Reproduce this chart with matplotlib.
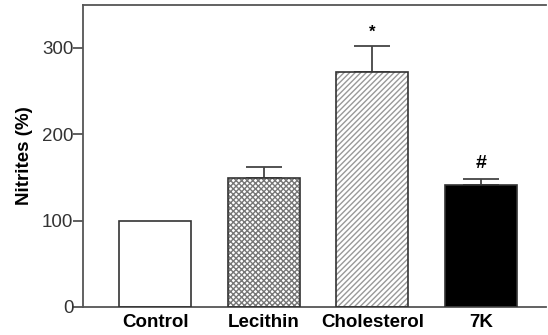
import matplotlib
matplotlib.use("Agg")
import matplotlib.pyplot as plt
import numpy as np

categories = ["Control", "Lecithin", "Cholesterol", "7K"]
values = [100, 149, 272, 141]
errors = [0, 13, 30, 7]
marks = ["", "", "*", "#"]

plt.rcParams['font.family'] = ['Liberation Sans', 'DejaVu Sans']
plt.rcParams['hatch.linewidth'] = 1.0

fig = plt.figure(figsize=(5.48, 3.35), dpi=100)
ax = fig.add_axes([0.1515, 0.0836, 0.845, 0.902])

x = np.arange(len(categories))
faces = ["white", "white", "white", "black"]
hatches = [None, "xxxxxx", "//////", None]
hcolors = ["#444444", "#777777", "#999999", "#444444"]
for i in range(len(categories)):
    ax.bar(x[i], values[i], width=0.665, facecolor=faces[i], edgecolor=hcolors[i],
           hatch=hatches[i], linewidth=0, zorder=2)
    ax.bar(x[i], values[i], width=0.665, facecolor="none", edgecolor="#333333",
           linewidth=1.2, zorder=3)
    if errors[i] > 0:
        ax.errorbar(x[i], values[i], yerr=[[0], [errors[i]]], fmt="none",
                    ecolor="#444444", elinewidth=1.3, capsize=13, capthick=1.3, zorder=1)
    if marks[i]:
        ax.text(x[i], values[i] + errors[i] + 8, marks[i], ha="center", va="bottom",
                fontsize=14 if marks[i] == "#" else 12, fontweight="bold")

ax.set_xlim(-0.665, 3.6)
ax.set_ylim(0, 350)
ax.set_yticks([0, 100, 200, 300])
ax.set_xticks(x)
ax.set_xticklabels(categories, fontweight="bold", fontsize=13.5)
ax.tick_params(axis="x", length=0, pad=5)
ax.tick_params(axis="y", length=7, width=1.2, color="#444444", labelsize=13.5,
               labelcolor="#333333", pad=0)
ax.set_ylabel("Nitrites (%)", fontweight="bold", fontsize=13.5, labelpad=6)
for s in ["left", "bottom", "top"]:
    ax.spines[s].set_color("#555555")
    ax.spines[s].set_linewidth(1.3)
ax.spines["right"].set_visible(False)

fig.savefig("out.png", dpi=100)
